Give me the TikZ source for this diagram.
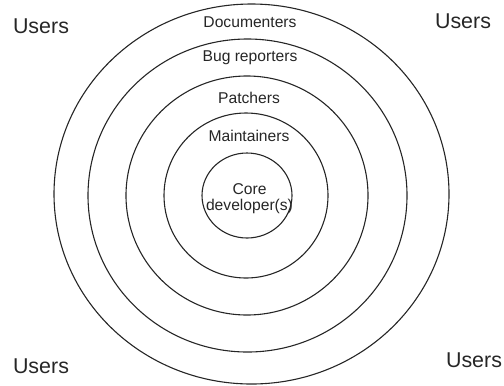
\documentclass[tikz,border=0pt]{standalone}
\usepackage{fontspec}
\setmainfont{Liberation Sans}
\begin{document}
\begin{tikzpicture}[x=1bp,y=-1bp,
  ring/.style={draw=black!85, line width=1.1bp},
  lbl/.style={font=\fontsize{15.7}{15.6}\selectfont, inner sep=0pt, anchor=base, text=black!85},
  userlbl/.style={font=\fontsize{21.5}{24}\selectfont, inner sep=0pt, anchor=base, text=black!85}]
\useasboundingbox (0,0) rectangle (504,385);

% centres of the rings
\coordinate (c1) at (247,195.5);
\coordinate (c2) at (246,195.5);
\coordinate (c3) at (247,195.5);
\coordinate (c4) at (247.5,195.5);
\coordinate (c5) at (251.5,194);

% concentric rings, innermost first
\draw[ring] (c1) ellipse [x radius=45,    y radius=42.5];
\draw[ring] (c2) ellipse [x radius=82,    y radius=82.5];
\draw[ring] (c3) ellipse [x radius=121,   y radius=119.5];
\draw[ring] (c4) ellipse [x radius=159.5, y radius=156.5];
\draw[ring] (c5) ellipse [x radius=197.5, y radius=190];

% ring labels
\node[lbl] (documenters) at (250,27.3)  {Documenters};
\node[lbl] (bugreporters) at (250,61.5) {Bug reporters};
\node[lbl] (patchers) at (249,103.3)    {Patchers};
\node[lbl] (maintainers) at (249,141.7) {Maintainers};
\node[lbl, anchor=center, align=center] (core) at (249.5,198.5) {Core\\developer(s)};

% users in the corners
\node[userlbl] (usersTL) at (41,33.3)   {Users};
\node[userlbl] (usersTR) at (463,28.3)  {Users};
\node[userlbl] (usersBL) at (41,373.3)  {Users};
\node[userlbl] (usersBR) at (474,367.3) {Users};
\end{tikzpicture}
\end{document}
